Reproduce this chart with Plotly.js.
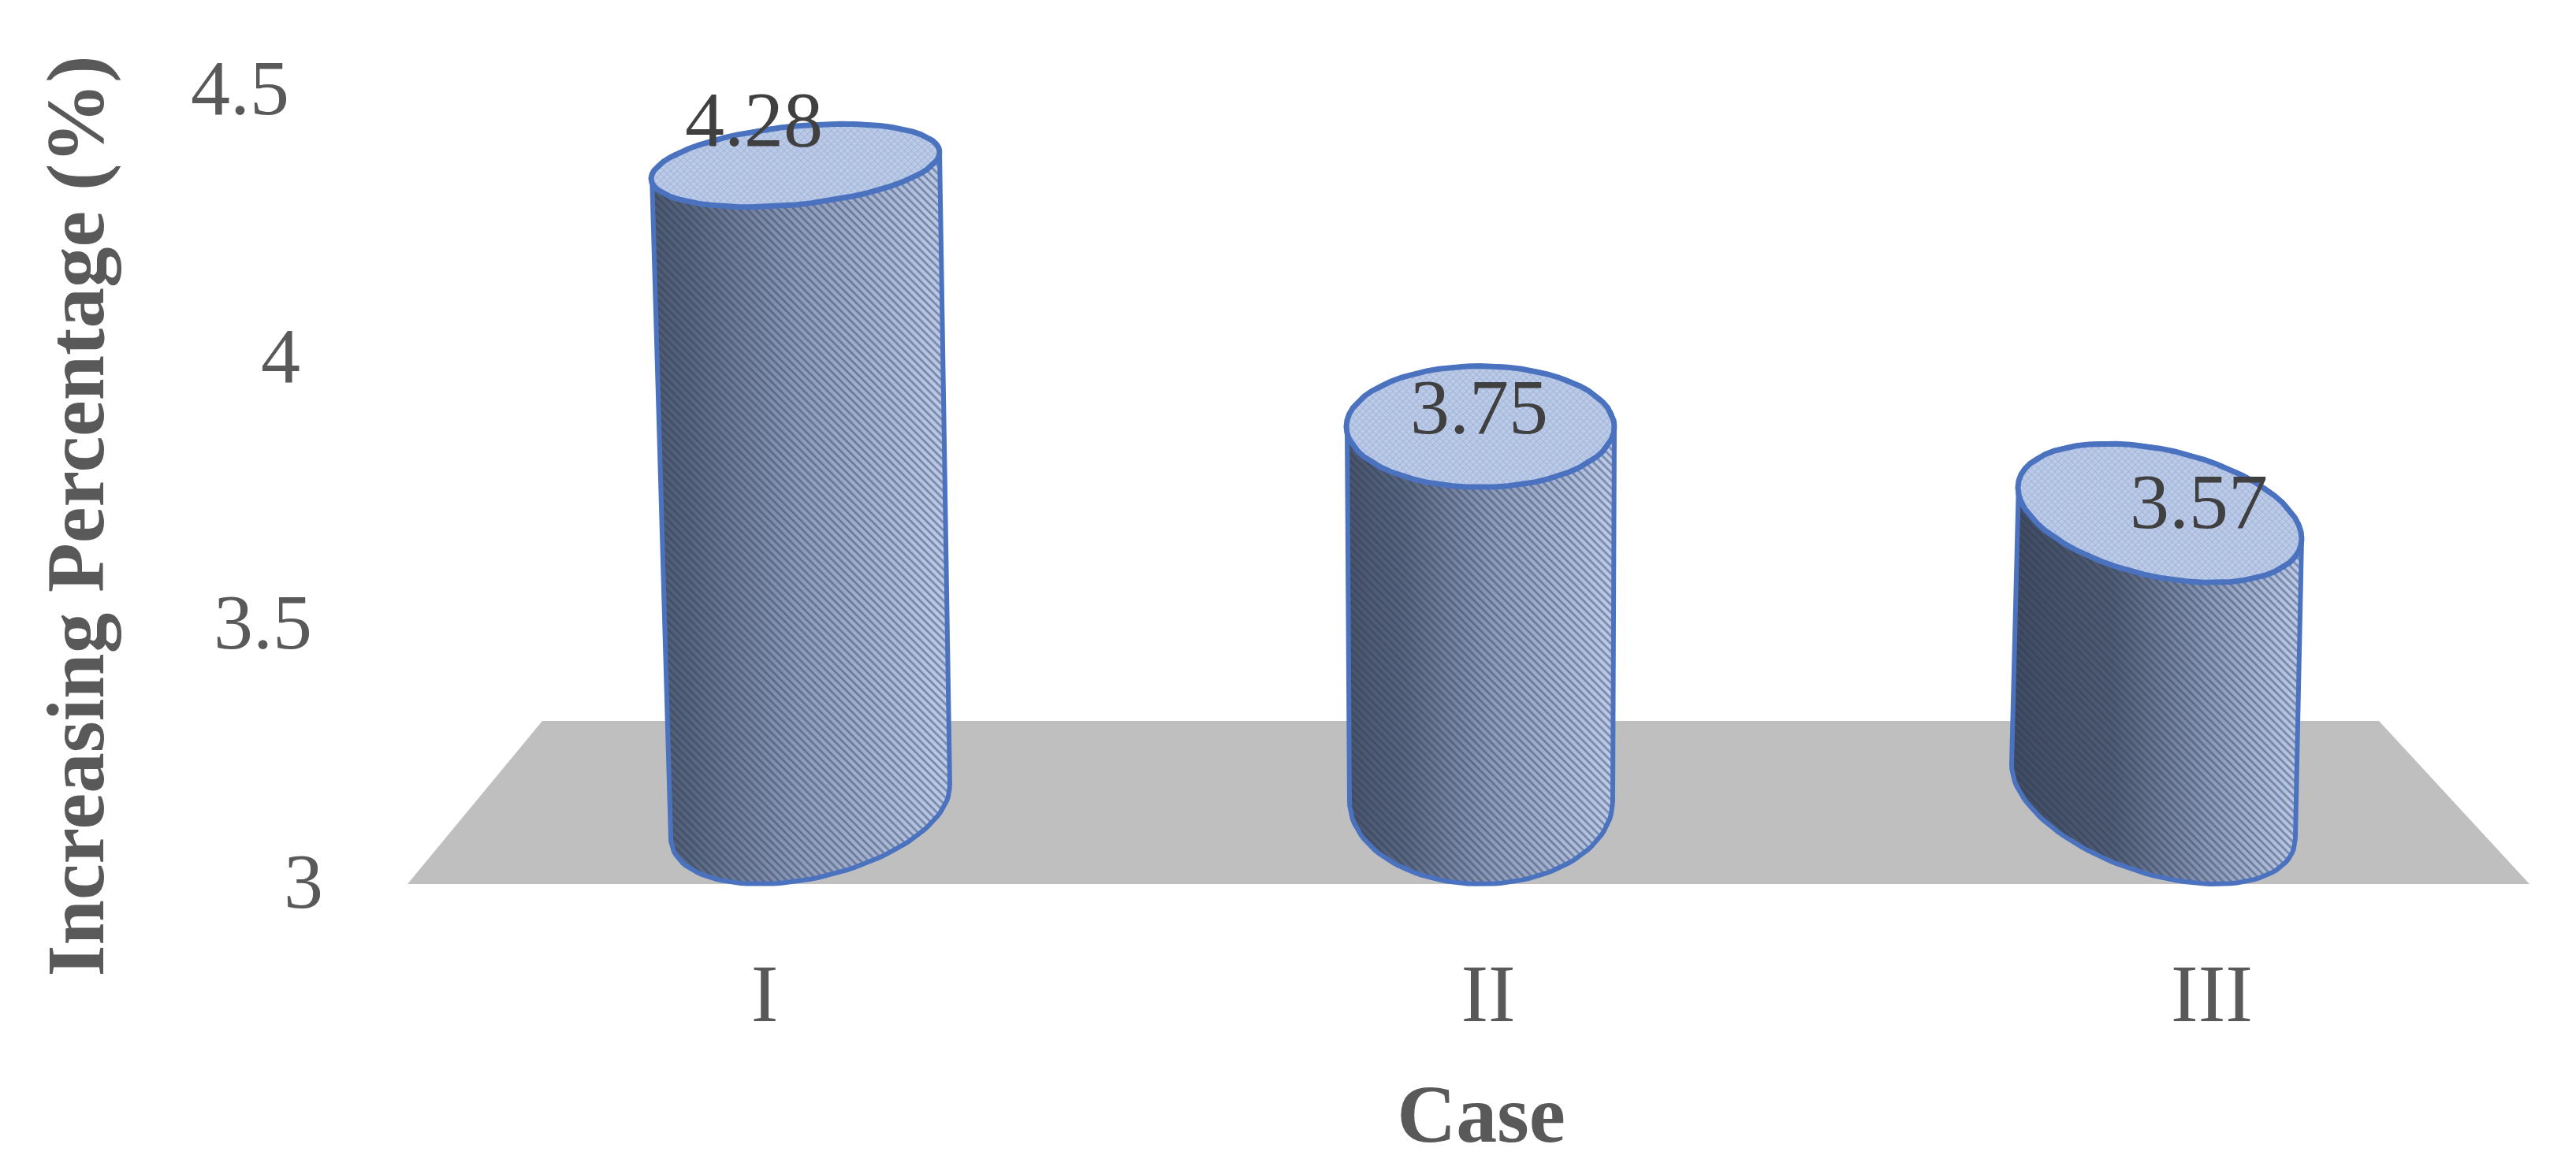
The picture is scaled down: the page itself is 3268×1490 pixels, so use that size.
<!DOCTYPE html>
<html>
<head>
<meta charset="utf-8">
<script src="https://cdn.plot.ly/plotly-3.0.1.min.js"></script>
<style>html,body{margin:0;padding:0;background:#fff}</style>
</head>
<body>
<div id="grafico" style="width:3268px;height:1490px"></div>
<script>
const categories = ["I", "II", "III"];
const values = [4.28, 3.75, 3.57];
const yTicks = [3, 3.5, 4, 4.5];
const baseline = 3;

// pixel scale of the axes, the perspective of the cylinders is described in pixels
const pxPerUnitX = 918;
const pxPerUnitY = 671.3;
const tickIIPx = 1888;
const plotLeft = 490;
const toX = (px) => (px - tickIIPx) / pxPerUnitX + 1;

// perspective of each cylinder (centre, half width, half height, tilt)
const topEllipse = {
    cx: [1009, 1878, 2740],
    a: [183, 170, 180],
    b: [50, 77, 82],
    k: [-0.092, 0, 0.18],
};
const bottomEllipse = {
    cx: [1028, 1879, 2732],
    a: [177, 167, 180],
    b: [85, 105, 94],
    k: [-0.186, 0, 0.256],
};
const shadeScales = [
    [[0, "#4c586e"], [0.14, "#596680"], [0.5, "#8d9cbc"], [1, "#bfcdec"]],
    [[0, "#48536a"], [0.22, "#596680"], [0.55, "#8d9cbc"], [1, "#bfcdec"]],
    [[0, "#404a60"], [0.35, "#505c74"], [0.7, "#8d9cbc"], [1, "#bfcdec"]],
];
const labelShiftX = [-14, -12, -17];
const labelShiftY = [111, 102, 103];
// tick labels sit on a slanted 3D wall, so they drift a little from the scale
const tickShiftY = [4, -3, -1, 4];

const serif = "Liberation Serif, serif";
const lineBlue = "#4a72bf";

function ellipseArc(e, i, level, t0, t1) {
    const a = e.a[i], b = e.b[i], k = e.k[i];
    // level is the front (lowest) edge of the ellipse
    const centre = level + Math.hypot(b, k * a) / pxPerUnitY;
    const xs = [], ys = [];
    for (let n = 0; n <= 60; n++) {
        const t = t0 + (t1 - t0) * n / 60;
        xs.push(toX(e.cx[i] + a * Math.cos(t)));
        ys.push(centre - (k * a * Math.cos(t) + b * Math.sin(t)) / pxPerUnitY);
    }
    return { xs, ys };
}

const traces = [
    {
        // floor
        x: [toX(517), toX(3209), toX(3018), toX(688), toX(517)],
        y: [baseline, baseline, baseline + 207 / pxPerUnitY, baseline + 207 / pxPerUnitY, baseline],
        mode: "lines",
        fill: "toself",
        fillcolor: "#bfbfbf",
        line: { width: 0 },
        hoverinfo: "skip",
    },
];

categories.forEach((cat, i) => {
    const low = ellipseArc(bottomEllipse, i, baseline, 0, Math.PI);
    const up = ellipseArc(topEllipse, i, values[i], Math.PI, 2 * Math.PI);
    const full = ellipseArc(topEllipse, i, values[i], 0, 2 * Math.PI);
    const bodyX = [...low.xs, ...up.xs, low.xs[0]];
    const bodyY = [...low.ys, ...up.ys, low.ys[0]];

    traces.push({
        x: bodyX,
        y: bodyY,
        mode: "lines",
        fill: "toself",
        fillgradient: { type: "horizontal", colorscale: shadeScales[i] },
        line: { width: 0 },
        hoverinfo: "skip",
    });
    traces.push({
        x: bodyX,
        y: bodyY,
        name: cat,
        mode: "lines",
        fill: "toself",
        fillcolor: "rgba(0,0,0,0)",
        fillpattern: { shape: "\\", size: 7, solidity: 0.4, fgcolor: "#2c3a58", fgopacity: 0.45, bgcolor: "rgba(0,0,0,0)" },
        line: { color: lineBlue, width: 6 },
        hoverinfo: "skip",
    });
    traces.push({
        x: full.xs,
        y: full.ys,
        mode: "lines",
        fill: "toself",
        fillcolor: "#b8c8e8",
        fillpattern: { shape: "x", size: 6, solidity: 0.3, fgcolor: "#8fa2c4", fgopacity: 0.6, bgcolor: "#bccbea" },
        line: { color: lineBlue, width: 7 },
        hoverinfo: "skip",
    });
});

const annotations = [];
yTicks.forEach((v, i) => {
    // right edge of the tick labels follows the slanted left edge of the 3D axis
    annotations.push({
        text: String(v),
        xref: "paper",
        yref: "y",
        x: (412 - 29 * (v - baseline) - plotLeft) / (3268 - plotLeft),
        y: v,
        yshift: tickShiftY[i],
        xanchor: "right",
        showarrow: false,
        font: { family: serif, size: 100, color: "#595959" },
    });
});
categories.forEach((cat, i) => {
    annotations.push({
        text: values[i].toFixed(2),
        xref: "x",
        yref: "y",
        x: i,
        y: values[i],
        xshift: labelShiftX[i],
        yshift: labelShiftY[i],
        showarrow: false,
        font: { family: serif, size: 100, color: "#404040" },
    });
});

const layout = {
    width: 3268,
    height: 1490,
    paper_bgcolor: "#fff",
    plot_bgcolor: "rgba(0,0,0,0)",
    showlegend: false,
    margin: { t: 85, r: 0, b: 265, l: plotLeft },
    font: { family: serif, color: "#595959" },
    xaxis: {
        range: [toX(plotLeft), toX(3268)],
        tickvals: [0, 1, 2],
        ticktext: categories,
        tickfont: { family: serif, size: 104, color: "#595959" },
        ticklabelstandoff: -34,
        showgrid: false,
        zeroline: false,
        showline: false,
        ticks: "",
        title: { text: "<b>Case</b>", font: { family: serif, size: 104, color: "#595959" }, standoff: 59 },
    },
    yaxis: {
        range: [baseline - (1225 - 1122) / pxPerUnitY, 4.5 + (115 - 85) / pxPerUnitY],
        tickvals: yTicks,
        showticklabels: false,
        showgrid: false,
        zeroline: false,
        showline: false,
        ticks: "",
        title: { text: "<b>Increasing Percentage (%)</b>", font: { family: serif, size: 103, color: "#595959" }, standoff: 322 },
    },
    annotations,
};

Plotly.newPlot("grafico", traces, layout, { displayModeBar: false, responsive: false });
</script>
</body>
</html>
